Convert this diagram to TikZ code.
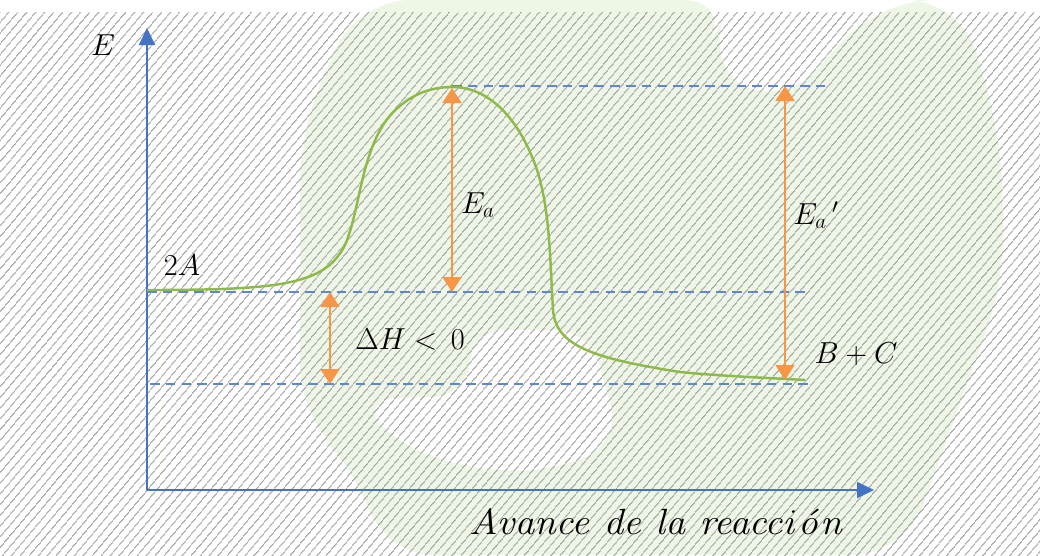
\documentclass[tikz,border=0pt]{standalone}
\usepackage{amsmath}
\usetikzlibrary{arrows.meta,patterns.meta}

\definecolor{ejeazul}{RGB}{68,114,196}
\definecolor{curvaverde}{RGB}{141,186,72}
\definecolor{flechanaranja}{RGB}{247,150,70}
\definecolor{fondoverde}{RGB}{238,246,229}

\begin{document}
\begin{tikzpicture}[
        x=0.02cm, y=-0.02cm,
        eje/.style={draw=ejeazul, line width=1.1pt,
            -{Triangle[length=0.34cm, width=0.32cm]}},
        nivel/.style={draw=ejeazul!85, line width=0.85pt,
            dash pattern=on 5.5pt off 3.5pt},
        curva/.style={draw=curvaverde, line width=1.4pt},
        energia/.style={draw=flechanaranja, line width=1.1pt,
            {Triangle[length=0.3cm, width=0.38cm]}-{Triangle[length=0.3cm, width=0.38cm]}},
        etiq/.style={inner sep=1pt, font=\fontsize{18}{21}\selectfont}
    ]
    \useasboundingbox (0,0) rectangle (1040,555);

    % 1. Fondo: marca de agua verde y rayado
    \fill[fondoverde, rounded corners=30pt]
        (357,0) -- (735,0) -- (700,60) -- (780,110) -- (880,0) -- (960,0)
        -- (1000,130) -- (1005,280) -- (905,555) -- (380,555)
        -- (360,470) -- (300,420) -- (300,130) -- cycle;
    \fill[white, rounded corners=20pt]
        (470,330) -- (590,330) -- (620,440) -- (560,470) -- (470,470)
        -- (390,440) -- (360,400) -- (470,395) -- cycle;
    \fill[pattern={Lines[angle=50, distance=4pt, line width=0.7pt]},
        pattern color=gray!72] (0,12) rectangle (1040,555);

    % 2. Ejes
    \coordinate (origen) at (147,490);
    \coordinate (ytope) at (147,28);
    \coordinate (xfin) at (874,490);
    \draw[eje] (origen) -- (ytope);
    \draw[eje] (origen) -- (xfin);
    \node[etiq] (ejeE) at (103,45) {$E$};
    \node[etiq, font=\fontsize{20}{23}\selectfont] (ejeX) at (657,522)
        {\scalebox{1.08}[1]{$\mathit{Avance\ de\ la\ reacci\acute{o}n}$}};

    % 3. Niveles de energia
    \coordinate (pico) at (452,86);
    \coordinate (react) at (147,292);
    \coordinate (prod) at (150,384);
    \coordinate (picofin) at (825,86);
    \coordinate (reactfin) at (810,292);
    \coordinate (prodfin) at (810,384);
    \draw[nivel] (pico) -- (picofin);
    \draw[nivel] (react) -- (reactfin);
    \draw[nivel] (prod) -- (prodfin);

    % 4. Curva de reaccion
    \draw[curva] (147,290) .. controls (280,290) and (325,285) .. (345,245)
        .. controls (360,210) and (360,160) .. (385,122)
        .. controls (405,95) and (430,87) .. (452,87)
        .. controls (490,87) and (520,120) .. (537,170)
        .. controls (550,210) and (550,260) .. (553,310)
        .. controls (556,345) and (590,358) .. (680,372)
        .. controls (720,376) and (770,378) .. (805,380);

    % 5. Flechas de energia
    \coordinate (eaarr) at (452,88);
    \coordinate (eaab) at (452,292);
    \coordinate (eparr) at (785,86);
    \coordinate (epab) at (785,380);
    \coordinate (dharr) at (330,292);
    \coordinate (dhab) at (330,384);
    \draw[energia] (eaarr) -- (eaab);
    \draw[energia] (eparr) -- (epab);
    \draw[energia] (dharr) -- (dhab);

    % 6. Etiquetas
    \node[etiq] (ea) at (478,205) {$E_a$};
    \node[etiq] (eap) at (816,215) {$E_a\,{}'$};
    \node[etiq] (dh) at (410,340) {$\Delta H <\, 0$};
    \node[etiq] (dosA) at (182,265) {$2A$};
    \node[etiq] (bc) at (856,354) {$B + C$};

\end{tikzpicture}
\end{document}
